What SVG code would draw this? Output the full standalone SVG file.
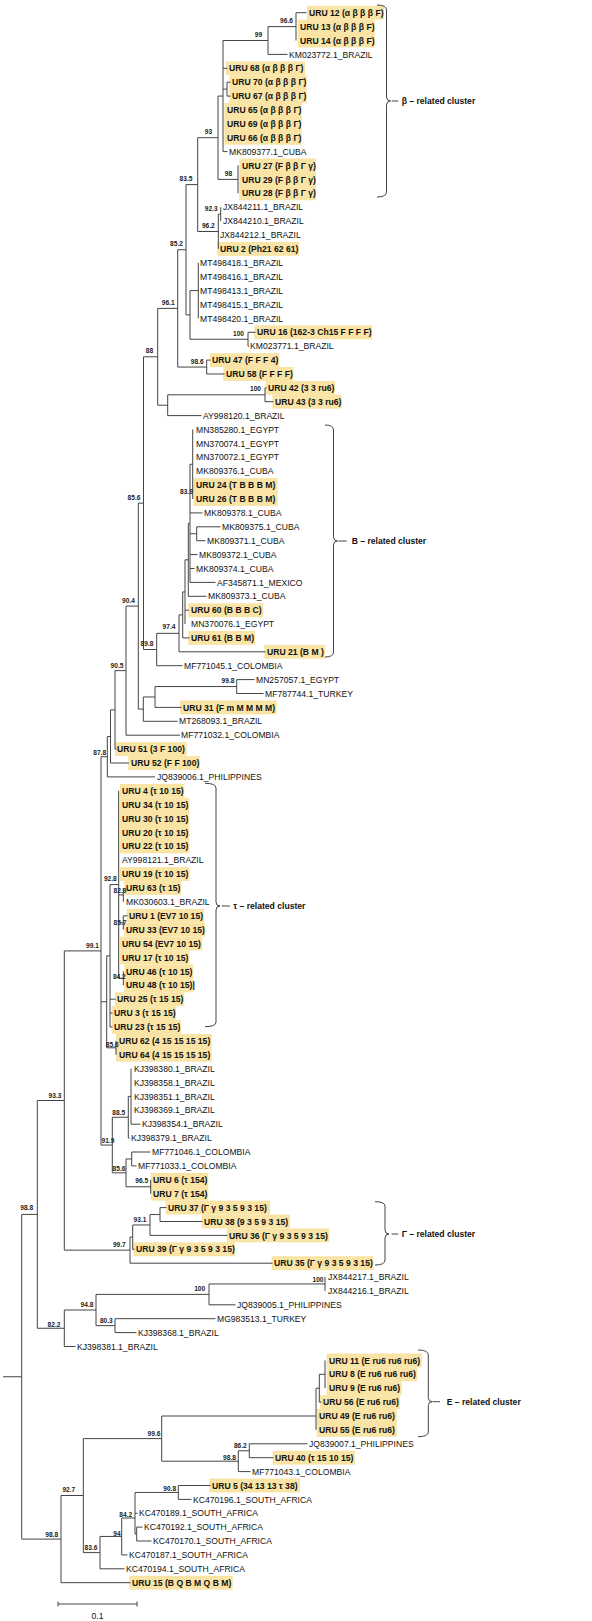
<svg xmlns="http://www.w3.org/2000/svg" width="592" height="1621" viewBox="0 0 592 1621">
<style>
text{font-family:"Liberation Sans",Arial,sans-serif;fill:#111}
.t{font-size:8.6px}
.u{font-size:8.6px;font-weight:bold}
.bs{font-size:6.6px;font-weight:bold;text-anchor:middle;fill:#222}
.cl{font-size:8.6px;font-weight:bold}
.hl{fill:#F9E4A6}
.br{fill:none;stroke:#444;stroke-width:1}
#connectors path{fill:none;stroke:#444;stroke-width:1}
</style>
<rect width="592" height="1621" fill="#fff"/>
<g id="highlights">
<rect class="hl" x="307" y="5.75" width="77" height="13.9"/>
<rect class="hl" x="297.7" y="19.65" width="77" height="27.8"/>
<rect class="hl" x="226" y="61.35" width="79" height="13.9"/>
<rect class="hl" x="229.3" y="75.25" width="77.4" height="27.8"/>
<rect class="hl" x="224.3" y="103.05" width="77.4" height="41.7"/>
<rect class="hl" x="239.3" y="158.55" width="76.7" height="41.7"/>
<rect class="hl" x="217.3" y="241.95" width="81.7" height="13.9"/>
<rect class="hl" x="254.3" y="325.35" width="118" height="13.9"/>
<rect class="hl" x="210" y="353.15" width="69.3" height="13.9"/>
<rect class="hl" x="223.3" y="367.05" width="70" height="13.9"/>
<rect class="hl" x="265.7" y="380.95" width="69.3" height="13.9"/>
<rect class="hl" x="272.3" y="394.75" width="69.4" height="13.9"/>
<rect class="hl" x="193.3" y="478.15" width="84.4" height="27.8"/>
<rect class="hl" x="188.3" y="603.25" width="75" height="13.9"/>
<rect class="hl" x="188.3" y="630.95" width="66.7" height="13.9"/>
<rect class="hl" x="264.3" y="644.85" width="60.7" height="13.9"/>
<rect class="hl" x="180" y="700.45" width="96.7" height="13.9"/>
<rect class="hl" x="115" y="742.15" width="71.7" height="13.9"/>
<rect class="hl" x="128.3" y="756.05" width="71.7" height="13.9"/>
<rect class="hl" x="120" y="783.85" width="64.3" height="13.9"/>
<rect class="hl" x="120" y="797.75" width="69.3" height="55.6"/>
<rect class="hl" x="120" y="867.15" width="69.3" height="13.9"/>
<rect class="hl" x="124.3" y="881.05" width="56.7" height="13.9"/>
<rect class="hl" x="126.7" y="908.85" width="77.3" height="13.9"/>
<rect class="hl" x="124.3" y="922.75" width="80.7" height="13.9"/>
<rect class="hl" x="120" y="936.65" width="82.3" height="13.9"/>
<rect class="hl" x="120" y="950.55" width="69.3" height="13.9"/>
<rect class="hl" x="124.3" y="964.45" width="69" height="27.8"/>
<rect class="hl" x="115" y="992.25" width="69.3" height="13.9"/>
<rect class="hl" x="111.7" y="1006.15" width="64.3" height="13.9"/>
<rect class="hl" x="111.7" y="1020.05" width="69.3" height="13.9"/>
<rect class="hl" x="116" y="1033.95" width="95.7" height="27.7"/>
<rect class="hl" x="150.7" y="1172.85" width="57.6" height="27.8"/>
<rect class="hl" x="165.7" y="1200.65" width="104.3" height="13.9"/>
<rect class="hl" x="201.7" y="1214.55" width="88.3" height="13.9"/>
<rect class="hl" x="226.7" y="1228.45" width="102.6" height="13.9"/>
<rect class="hl" x="133.3" y="1242.35" width="101.7" height="13.9"/>
<rect class="hl" x="271.7" y="1256.25" width="101.6" height="13.9"/>
<rect class="hl" x="326.7" y="1353.45" width="95" height="13.9"/>
<rect class="hl" x="326.7" y="1367.35" width="90.6" height="13.9"/>
<rect class="hl" x="326.7" y="1381.25" width="75" height="13.9"/>
<rect class="hl" x="320" y="1395.15" width="80" height="13.9"/>
<rect class="hl" x="316.7" y="1409.05" width="80" height="27.8"/>
<rect class="hl" x="272.7" y="1450.75" width="82.3" height="13.9"/>
<rect class="hl" x="209.3" y="1478.55" width="90.7" height="13.9"/>
<rect class="hl" x="129.3" y="1575.75" width="103.4" height="13.9"/>
</g>
<g id="connectors">
<path d="M3,1376.75H21.7 M21.7,1214.4V1539.1 M21.7,1214.4H37.3 M21.7,1539.1H61 M37.3,1100.5V1328.25 M37.3,1100.5H64.3 M37.3,1328.25H64.3 M64.3,950.9V1250.15 M64.3,950.9H101 M64.3,1250.15H130 M101,756.7V1145.05 M101,756.7H107.3 M101,1001.8H106.7 M101,1145.05H112.3 M107.3,736.45V776.9 M107.3,736.45H110.5 M107.3,776.9H155 M110.5,709.9V763 M110.5,709.9H115 M110.5,763H129 M115,670.65V749.1 M115,670.65H126 M115,749.1H116.5 M126,606.1V735.2 M126,606.1H138.3 M126,735.2H180 M138.3,503.15V709.1 M138.3,503.15H143.5 M138.3,709.1H143.3 M143.3,696.98V721.3 M143.3,696.98H155 M143.3,721.3H177.5 M155,686.55V707.4 M155,686.55H236.7 M155,707.4H181.5 M236.7,679.6V693.5 M236.7,679.6H254.5 M236.7,693.5H263.5"/>
<path d="M143.5,356.8V649.5 M143.5,356.8H157.7 M143.5,649.5H156.7 M157.7,308.4V405.2 M157.7,308.4H177.7 M157.7,405.2H167.7 M167.7,394.8V415.6 M167.7,394.8H265 M167.7,415.6H201.5 M265,387.9V401.7 M265,387.9H266.5 M265,401.7H273.5 M177.7,249.75V367.05 M177.7,249.75H186 M177.7,367.05H206.7 M206.7,360.1V374 M206.7,360.1H210.5 M206.7,374H224.5 M186,184.6V314.9 M186,184.6H197.7 M186,314.9H190 M190,290.6V339.25 M190,290.6H198.3 M190,339.25H248 M198.3,262.8V318.4 M248,332.3V346.2 M248,332.3H255.5 M248,346.2H249 M197.7,137.7V231.5 M197.7,137.7H218 M197.7,231.5H218.3 M218.3,214.15V248.9 M218.3,214.15H220.7 M220.7,207.2V221.1 M218,96.05V179.4 M218,96.05H223 M218,179.4H238 M238,165.5V193.3 M223,40.5V151.6 M223,40.5H268 M223,68.3H227.5 M223,89.15H227 M223,151.6H227.5 M227,82.2V96.1 M227,82.2H230.5 M227,96.1H230.5 M268,26.6V54.4 M268,26.6H296 M268,54.4H287.5 M296,12.7V40.5 M296,12.7H306.5"/>
<path d="M156.7,633.35V665.7 M156.7,633.35H179 M156.7,665.7H182.5 M179,614.9V651.8 M179,614.9H182.7 M179,651.8H265.5 M182.7,591.9V637.9 M182.7,591.9H185 M182.7,637.9H189.5 M185,559.8V624 M185,559.8H188.3 M185,610.2H189 M188.3,523.3V596.3 M188.3,523.3H190 M188.3,596.3H206.5 M190,464.25V582.4 M190,464.25H192.7 M190,512.9H202.5 M190,533.75H196.7 M190,554.6H197.5 M190,568.5H194.5 M190,582.4H215.5 M196.7,526.8V540.7 M196.7,526.8H220.5 M196.7,540.7H205.5 M192.7,429.5V499"/>
<path d="M106.7,955.8V1047.8 M106.7,955.8H110 M106.7,1047.8H116 M110,884.6V1027 M110,884.6H118.7 M110,999.2H115.5 M110,1013.1H112.5 M110,1027H112.5 M118.7,790.8V978.35 M118.7,894.95H123.3 M118.7,922.75H123.3 M118.7,978.35H123.3 M123.3,888V901.9 M123.3,915.8V929.7 M123.3,915.8H127.5 M123.3,971.4V985.3 M116,1040.9V1054.7 M112.3,1117.25V1172.85 M112.3,1117.25H128.3 M112.3,1172.85H126 M128.3,1096.4V1138.1 M128.3,1096.4H131 M128.3,1138.1H129.5 M131,1068.6V1124.2 M131,1124.2H140.5 M126,1158.95V1186.75 M126,1158.95H131.7 M126,1186.75H150.7 M131.7,1152V1165.9 M131.7,1152H150.5 M131.7,1165.9H136.5 M150.7,1179.8V1193.7"/>
<path d="M130,1237.1V1263.2 M130,1237.1H132.7 M130,1263.2H272.5 M132.7,1224.98V1249.3 M132.7,1224.98H150 M132.7,1249.3H134.5 M150,1214.55V1235.4 M150,1214.55H160 M150,1235.4H227.5 M160,1207.6V1221.5 M160,1207.6H166.5 M160,1221.5H202.5"/>
<path d="M64.3,1310V1346.5 M64.3,1310H96 M64.3,1346.5H75.5 M96,1294.4V1325.65 M96,1294.4H209 M96,1325.65H115 M209,1283.95V1304.8 M209,1283.95H325 M209,1304.8H235.5 M325,1277V1290.9 M115,1318.7V1332.6 M115,1318.7H215.5 M115,1332.6H136.5 M61,1495.5V1582.7 M61,1495.5H83.3 M61,1582.7H130.5 M83.3,1438.6V1552.6 M83.3,1438.6H161.7 M83.3,1552.6H100 M161.7,1416V1461.2 M161.7,1416H316 M161.7,1461.2H238.3 M316,1388.2V1429.9 M316,1388.2H319.3 M319.3,1374.3V1402.1 M319.3,1374.3H325 M319.3,1402.1H321.5 M325,1360.4V1388.2 M238.3,1450.75V1471.6 M238.3,1450.75H249.3 M238.3,1471.6H250.5 M249.3,1443.8V1457.7 M249.3,1443.8H307.5 M249.3,1457.7H273.5 M100,1536.45V1568.8 M100,1536.45H121.7 M100,1568.8H124.5 M121.7,1518V1554.9 M121.7,1518H135 M121.7,1554.9H127.5 M135,1492.45V1534.05 M135,1492.45H178.3 M135,1513.3H137.5 M135,1534.05H136.7 M178.3,1485.5V1499.4 M178.3,1485.5H210.5 M178.3,1499.4H191.5 M136.7,1527.1V1541 M136.7,1527.1H142.5 M136.7,1541H151.5"/>
</g>
<g id="leaves">
<g id="uru12"><text class="u" x="309" y="15.8">URU 12 (α β β β F)</text></g>
<g id="uru13"><text class="u" x="300" y="29.7">URU 13 (α β β β F)</text></g>
<g id="uru14"><text class="u" x="300" y="43.6">URU 14 (α β β β F)</text></g>
<g id="km023772"><text class="t" x="289" y="57.5">KM023772.1_BRAZIL</text></g>
<g id="uru68"><text class="u" x="229" y="71.4">URU 68 (α β β β Γ)</text></g>
<g id="uru70"><text class="u" x="232" y="85.3">URU 70 (α β β β Γ)</text></g>
<g id="uru67"><text class="u" x="232" y="99.2">URU 67 (α β β β Γ)</text></g>
<g id="uru65"><text class="u" x="227" y="113.1">URU 65 (α β β β Γ)</text></g>
<g id="uru69"><text class="u" x="227" y="127">URU 69 (α β β β Γ)</text></g>
<g id="uru66"><text class="u" x="227" y="140.8">URU 66 (α β β β Γ)</text></g>
<g id="mk809377"><text class="t" x="229" y="154.7">MK809377.1_CUBA</text></g>
<g id="uru27"><text class="u" x="242" y="168.6">URU 27 (F β β Γ γ)</text></g>
<g id="uru29"><text class="u" x="242" y="182.5">URU 29 (F β β Γ γ)</text></g>
<g id="uru28"><text class="u" x="242" y="196.4">URU 28 (F β β Γ γ)</text></g>
<g id="jx844211"><text class="t" x="223" y="210.3">JX844211.1_BRAZIL</text></g>
<g id="jx844210"><text class="t" x="223" y="224.2">JX844210.1_BRAZIL</text></g>
<g id="jx844212"><text class="t" x="220" y="238.1">JX844212.1_BRAZIL</text></g>
<g id="uru2"><text class="u" x="220" y="252">URU 2 (Ph21 62 61)</text></g>
<g id="mt498418"><text class="t" x="200" y="265.9">MT498418.1_BRAZIL</text></g>
<g id="mt498416"><text class="t" x="200" y="279.8">MT498416.1_BRAZIL</text></g>
<g id="mt498413"><text class="t" x="200" y="293.7">MT498413.1_BRAZIL</text></g>
<g id="mt498415"><text class="t" x="200" y="307.6">MT498415.1_BRAZIL</text></g>
<g id="mt498420"><text class="t" x="200" y="321.5">MT498420.1_BRAZIL</text></g>
<g id="uru16"><text class="u" x="257" y="335.4">URU 16 (162-3 Ch15 F F F F)</text></g>
<g id="km023771"><text class="t" x="250" y="349.3">KM023771.1_BRAZIL</text></g>
<g id="uru47"><text class="u" x="212" y="363.2">URU 47 (F F F 4)</text></g>
<g id="uru58"><text class="u" x="226" y="377.1">URU 58 (F F F F)</text></g>
<g id="uru42"><text class="u" x="268" y="391">URU 42 (3 3 ru6)</text></g>
<g id="uru43"><text class="u" x="275" y="404.8">URU 43 (3 3 ru6)</text></g>
<g id="ay998120"><text class="t" x="203" y="418.7">AY998120.1_BRAZIL</text></g>
<g id="mn385280"><text class="t" x="196" y="432.6">MN385280.1_EGYPT</text></g>
<g id="mn370074"><text class="t" x="196" y="446.5">MN370074.1_EGYPT</text></g>
<g id="mn370072"><text class="t" x="196" y="460.4">MN370072.1_EGYPT</text></g>
<g id="mk809376"><text class="t" x="196" y="474.3">MK809376.1_CUBA</text></g>
<g id="uru24"><text class="u" x="196" y="488.2">URU 24 (T B B B M)</text></g>
<g id="uru26"><text class="u" x="196" y="502.1">URU 26 (T B B B M)</text></g>
<g id="mk809378"><text class="t" x="204" y="516">MK809378.1_CUBA</text></g>
<g id="mk809375"><text class="t" x="222" y="529.9">MK809375.1_CUBA</text></g>
<g id="mk809371"><text class="t" x="207" y="543.8">MK809371.1_CUBA</text></g>
<g id="mk809372"><text class="t" x="199" y="557.7">MK809372.1_CUBA</text></g>
<g id="mk809374"><text class="t" x="196" y="571.6">MK809374.1_CUBA</text></g>
<g id="af345871"><text class="t" x="217" y="585.5">AF345871.1_MEXICO</text></g>
<g id="mk809373"><text class="t" x="208" y="599.4">MK809373.1_CUBA</text></g>
<g id="uru60"><text class="u" x="191" y="613.3">URU 60 (B B B C)</text></g>
<g id="mn370076"><text class="t" x="191" y="627.1">MN370076.1_EGYPT</text></g>
<g id="uru61"><text class="u" x="191" y="641">URU 61 (B B M)</text></g>
<g id="uru21"><text class="u" x="267" y="654.9">URU 21 (B M )</text></g>
<g id="mf771045"><text class="t" x="184" y="668.8">MF771045.1_COLOMBIA</text></g>
<g id="mn257057"><text class="t" x="256" y="682.7">MN257057.1_EGYPT</text></g>
<g id="mf787744"><text class="t" x="265" y="696.6">MF787744.1_TURKEY</text></g>
<g id="uru31"><text class="u" x="183" y="710.5">URU 31 (F m M M M M)</text></g>
<g id="mt268093"><text class="t" x="179" y="724.4">MT268093.1_BRAZIL</text></g>
<g id="mf771032"><text class="t" x="181" y="738.3">MF771032.1_COLOMBIA</text></g>
<g id="uru51"><text class="u" x="117" y="752.2">URU 51 (3 F 100)</text></g>
<g id="uru52"><text class="u" x="131" y="766.1">URU 52 (F F 100)</text></g>
<g id="jq839006"><text class="t" x="157" y="780">JQ839006.1_PHILIPPINES</text></g>
<g id="uru4"><text class="u" x="122" y="793.9">URU 4 (τ 10 15)</text></g>
<g id="uru34"><text class="u" x="122" y="807.8">URU 34 (τ 10 15)</text></g>
<g id="uru30"><text class="u" x="122" y="821.7">URU 30 (τ 10 15)</text></g>
<g id="uru20"><text class="u" x="122" y="835.6">URU 20 (τ 10 15)</text></g>
<g id="uru22"><text class="u" x="122" y="849.4">URU 22 (τ 10 15)</text></g>
<g id="ay998121"><text class="t" x="122" y="863.3">AY998121.1_BRAZIL</text></g>
<g id="uru19"><text class="u" x="122" y="877.2">URU 19 (τ 10 15)</text></g>
<g id="uru63"><text class="u" x="126" y="891.1">URU 63 (τ 15)</text></g>
<g id="mk030603"><text class="t" x="126" y="905">MK030603.1_BRAZIL</text></g>
<g id="uru1"><text class="u" x="129" y="918.9">URU 1 (EV7 10 15)</text></g>
<g id="uru33"><text class="u" x="126" y="932.8">URU 33 (EV7 10 15)</text></g>
<g id="uru54"><text class="u" x="122" y="946.7">URU 54 (EV7 10 15)</text></g>
<g id="uru17"><text class="u" x="122" y="960.6">URU 17 (τ 10 15)</text></g>
<g id="uru46"><text class="u" x="126" y="974.5">URU 46 (τ 10 15)</text></g>
<g id="uru48"><text class="u" x="126" y="988.4">URU 48 (τ 10 15)|</text></g>
<g id="uru25"><text class="u" x="117" y="1002.3">URU 25 (τ 15 15)</text></g>
<g id="uru3"><text class="u" x="114" y="1016.2">URU 3 (τ 15 15)</text></g>
<g id="uru23"><text class="u" x="114" y="1030.1">URU 23 (τ 15 15)</text></g>
<g id="uru62"><text class="u" x="119" y="1044">URU 62 (4 15 15 15 15)</text></g>
<g id="uru64"><text class="u" x="119" y="1057.8">URU 64 (4 15 15 15 15)</text></g>
<g id="kj398380"><text class="t" x="134" y="1071.7">KJ398380.1_BRAZIL</text></g>
<g id="kj398358"><text class="t" x="134" y="1085.6">KJ398358.1_BRAZIL</text></g>
<g id="kj398351"><text class="t" x="134" y="1099.5">KJ398351.1_BRAZIL</text></g>
<g id="kj398369"><text class="t" x="134" y="1113.4">KJ398369.1_BRAZIL</text></g>
<g id="kj398354"><text class="t" x="142" y="1127.3">KJ398354.1_BRAZIL</text></g>
<g id="kj398379"><text class="t" x="131" y="1141.2">KJ398379.1_BRAZIL</text></g>
<g id="mf771046"><text class="t" x="152" y="1155.1">MF771046.1_COLOMBIA</text></g>
<g id="mf771033"><text class="t" x="138" y="1169">MF771033.1_COLOMBIA</text></g>
<g id="uru6"><text class="u" x="153" y="1182.9">URU 6 (τ 154)</text></g>
<g id="uru7"><text class="u" x="153" y="1196.8">URU 7 (τ 154)</text></g>
<g id="uru37"><text class="u" x="168" y="1210.7">URU 37 (Γ γ 9 3 5 9 3 15)</text></g>
<g id="uru38"><text class="u" x="204" y="1224.6">URU 38 (9 3 5 9 3 15)</text></g>
<g id="uru36"><text class="u" x="229" y="1238.5">URU 36 (Γ γ 9 3 5 9 3 15)</text></g>
<g id="uru39"><text class="u" x="136" y="1252.4">URU 39 (Γ γ 9 3 5 9 3 15)</text></g>
<g id="uru35"><text class="u" x="274" y="1266.3">URU 35 (Γ γ 9 3 5 9 3 15)</text></g>
<g id="jx844217"><text class="t" x="328" y="1280.1">JX844217.1_BRAZIL</text></g>
<g id="jx844216"><text class="t" x="328" y="1294">JX844216.1_BRAZIL</text></g>
<g id="jq839005"><text class="t" x="237" y="1307.9">JQ839005.1_PHILIPPINES</text></g>
<g id="mg983513"><text class="t" x="217" y="1321.8">MG983513.1_TURKEY</text></g>
<g id="kj398368"><text class="t" x="138" y="1335.7">KJ398368.1_BRAZIL</text></g>
<g id="kj398381"><text class="t" x="77" y="1349.6">KJ398381.1_BRAZIL</text></g>
<g id="uru11"><text class="u" x="329" y="1363.5">URU 11 (E ru6 ru6 ru6)</text></g>
<g id="uru8"><text class="u" x="329" y="1377.4">URU 8 (E ru6 ru6 ru6)</text></g>
<g id="uru9"><text class="u" x="329" y="1391.3">URU 9 (E ru6 ru6)</text></g>
<g id="uru56"><text class="u" x="323" y="1405.2">URU 56 (E ru6 ru6)</text></g>
<g id="uru49"><text class="u" x="319" y="1419.1">URU 49 (E ru6 ru6)</text></g>
<g id="uru55"><text class="u" x="319" y="1433">URU 55 (E ru6 ru6)</text></g>
<g id="jq839007"><text class="t" x="309" y="1446.9">JQ839007.1_PHILIPPINES</text></g>
<g id="uru40"><text class="u" x="275" y="1460.8">URU 40 (τ 15 10 15)</text></g>
<g id="mf771043"><text class="t" x="252" y="1474.7">MF771043.1_COLOMBIA</text></g>
<g id="uru5"><text class="u" x="212" y="1488.6">URU 5 (34 13 13 τ 38)</text></g>
<g id="kc470196"><text class="t" x="193" y="1502.5">KC470196.1_SOUTH_AFRICA</text></g>
<g id="kc470189"><text class="t" x="139" y="1516.4">KC470189.1_SOUTH_AFRICA</text></g>
<g id="kc470192"><text class="t" x="144" y="1530.2">KC470192.1_SOUTH_AFRICA</text></g>
<g id="kc470170"><text class="t" x="153" y="1544.1">KC470170.1_SOUTH_AFRICA</text></g>
<g id="kc470187"><text class="t" x="129" y="1558">KC470187.1_SOUTH_AFRICA</text></g>
<g id="kc470194"><text class="t" x="126" y="1571.9">KC470194.1_SOUTH_AFRICA</text></g>
<g id="uru15"><text class="u" x="132" y="1585.8">URU 15 (B Q B M Q B M)</text></g>
</g>
<g id="bootstrap">
<text class="bs" x="286.5" y="23.1">96.6</text>
<text class="bs" x="258.5" y="37">99</text>
<text class="bs" x="208.5" y="134.2">93</text>
<text class="bs" x="228.5" y="175.9">98</text>
<text class="bs" x="186" y="181.1">83.5</text>
<text class="bs" x="211.2" y="210.6">92.3</text>
<text class="bs" x="208.3" y="228">96.2</text>
<text class="bs" x="176.5" y="246.2">85.2</text>
<text class="bs" x="168.2" y="304.9">96.1</text>
<text class="bs" x="149.5" y="353.3">88</text>
<text class="bs" x="197.2" y="363.5">98.6</text>
<text class="bs" x="238.5" y="335.7">100</text>
<text class="bs" x="255.5" y="391.3">100</text>
<text class="bs" x="134" y="500.3">85.6</text>
<text class="bs" x="186.5" y="494.4">83.9</text>
<text class="bs" x="169" y="628.5">97.4</text>
<text class="bs" x="147" y="646.4">89.8</text>
<text class="bs" x="128.5" y="603.4">90.4</text>
<text class="bs" x="117" y="668.4">90.5</text>
<text class="bs" x="228" y="683">99.8</text>
<text class="bs" x="99.7" y="755">87.8</text>
<text class="bs" x="110.3" y="881.4">92.8</text>
<text class="bs" x="120" y="893.4">82.9</text>
<text class="bs" x="120" y="925">85.7</text>
<text class="bs" x="119.3" y="979">84.2</text>
<text class="bs" x="92.5" y="948.4">99.1</text>
<text class="bs" x="112.2" y="1046.7">85.6</text>
<text class="bs" x="118.7" y="1114.7">88.5</text>
<text class="bs" x="108" y="1143.4">91.9</text>
<text class="bs" x="119" y="1170.7">85.6</text>
<text class="bs" x="141.7" y="1183.4">96.5</text>
<text class="bs" x="55" y="1098.4">93.3</text>
<text class="bs" x="26.7" y="1210">98.8</text>
<text class="bs" x="140" y="1222.4">93.1</text>
<text class="bs" x="119.3" y="1246.7">99.7</text>
<text class="bs" x="318" y="1282.4">100</text>
<text class="bs" x="199.7" y="1291.4">100</text>
<text class="bs" x="87" y="1306.7">94.8</text>
<text class="bs" x="106.3" y="1323.4">80.3</text>
<text class="bs" x="54" y="1326.7">82.2</text>
<text class="bs" x="154" y="1435.7">99.6</text>
<text class="bs" x="240.3" y="1448.4">86.2</text>
<text class="bs" x="229.5" y="1460">98.8</text>
<text class="bs" x="169.7" y="1490.7">90.8</text>
<text class="bs" x="68.8" y="1492.4">92.7</text>
<text class="bs" x="125.7" y="1516.7">84.2</text>
<text class="bs" x="117" y="1535.7">94</text>
<text class="bs" x="51.7" y="1536.7">98.8</text>
<text class="bs" x="91" y="1550">83.6</text>
</g>
<g id="cluster-beta">
<path class="br" d="M377,5 Q386.5,5 386.5,10 V97 Q386.5,101 390.5,101 Q386.5,101 386.5,105 V192 Q386.5,197 377,197 M391.7,101 H398.3"/>
<text class="cl" x="401.7" y="104.2">β – related cluster</text>
</g>
<g id="cluster-b">
<path class="br" d="M325,425 Q333.5,425 333.5,430 V537 Q333.5,541 337.5,541 Q333.5,541 333.5,545 V652 Q333.5,657 325,657 M338.5,541 H346.7"/>
<text class="cl" x="351.7" y="544.2">B – related cluster</text>
</g>
<g id="cluster-tau">
<path class="br" d="M205,783.3 Q216,783.3 216,788 V902 Q216,906 220,906 Q216,906 216,910 V1022 Q216,1026.7 205,1026.7 M221.7,906 H230"/>
<text class="cl" x="233.3" y="909.2">τ – related cluster</text>
</g>
<g id="cluster-gamma">
<path class="br" d="M375,1201.7 Q385,1201.7 385,1206 V1230 Q385,1234 389,1234 Q385,1234 385,1238 V1260 Q385,1265 375,1265 M391.7,1234 H398.3"/>
<text class="cl" x="401.7" y="1237.2">Γ – related cluster</text>
</g>
<g id="cluster-e">
<path class="br" d="M418,1350 Q428.3,1350 428.3,1355 V1397.7 Q428.3,1401.7 432.3,1401.7 Q428.3,1401.7 428.3,1405.7 V1432 Q428.3,1436.7 418,1436.7 M433,1401.7 H440"/>
<text class="cl" x="446.7" y="1404.9">E – related cluster</text>
</g>
<g id="scale-bar">
<path class="br" d="M58,1604H137 M58,1601.5V1606.5 M137,1601.5V1606.5"/>
<text class="t" x="97.5" y="1619" text-anchor="middle">0.1</text>
</g>
</svg>
